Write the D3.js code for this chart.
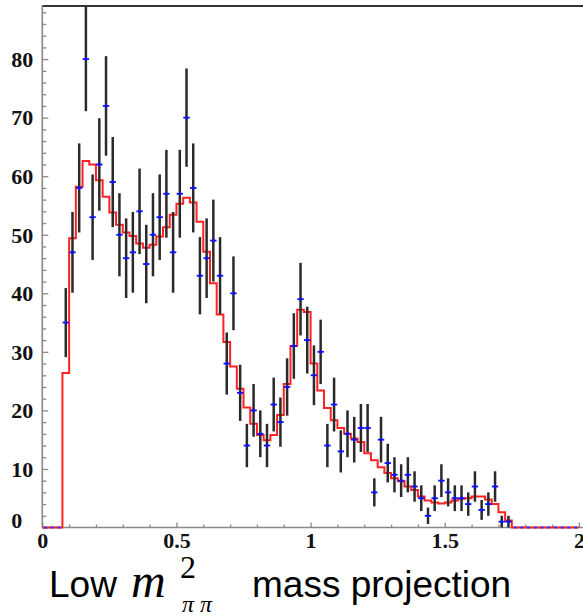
<!DOCTYPE html>
<html><head><meta charset="utf-8">
<script src="https://cdn.jsdelivr.net/npm/d3@7"></script>
<style>
html,body{margin:0;padding:0;background:#fff;}
svg{display:block;}
</style></head>
<body>
<svg id="chart" width="583" height="616"></svg>
<script>
// ---- data ----
const binWidth = 0.025;
const massCenters = [0.0875,0.1125,0.1375,0.1625,0.1875,0.2125,0.2375,0.2625,0.2875,0.3125,
  0.3375,0.3625,0.3875,0.4125,0.4375,0.4625,0.4875,0.5125,0.5375,0.5625,
  0.5875,0.6125,0.6375,0.6625,0.6875,0.7125,0.7375,0.7625,0.7875,0.8125,
  0.8375,0.8625,0.8875,0.9125,0.9375,0.9625,0.9875,1.0125,1.0375,1.0625,
  1.0875,1.1125,1.1375,1.1625,1.1875,1.2125,1.2375,1.2625,1.2875,1.3125,
  1.3375,1.3625,1.3875,1.4125,1.4375,1.4625,1.4875,1.5125,1.5375,1.5625,
  1.5875,1.6125,1.6375,1.6625,1.6875,1.7125,1.7375];
const counts = [35,47,58,80,53,62,72,59,50,46,
  47,54,45,50,53,57,47,57,70,58,
  43,46,49,43,28,40,23,14,20,16,
  14,21,18,24,31,39,32,26,30,14,
  21,13,16,15,17,17,6,15,11,9,
  8,9,7,5,2,5,8,6,5,5,
  4,7,3,4,7,1,1];
const errors = [5.9,6.9,7.6,8.9,7.3,7.9,8.5,7.7,7.1,6.8,
  6.9,7.3,6.7,7.1,7.3,7.5,6.9,7.5,8.4,7.6,
  6.6,6.8,7.0,6.6,5.3,6.3,4.8,3.7,4.5,4.0,
  3.7,4.6,4.2,4.9,5.6,6.2,5.7,5.1,5.5,3.7,
  4.6,3.6,4.0,3.9,4.1,4.1,2.4,3.9,3.3,3.0,
  2.8,3.0,2.6,2.2,1.4,2.2,2.8,2.4,2.2,2.2,
  2.0,2.6,1.7,2.0,2.6,1.0,1.0];
const fitValues = [26.4,49.4,58.2,62.6,62.0,59.3,56.5,53.8,51.7,50.4,
  49.8,48.5,47.8,48.3,49.7,51.3,53.4,55.3,56.3,55.5,
  52.2,47.1,41.7,36.4,31.7,27.5,23.7,20.5,17.7,15.8,
  14.9,15.8,19.2,24.5,31.0,37.2,36.8,28.0,23.4,20.4,
  18.3,17.0,16.0,15.2,14.6,12.7,11.5,10.3,9.3,8.4,
  7.9,7.0,6.4,5.3,4.6,4.25,4.1,4.25,4.6,4.9,
  5.0,5.3,5.3,4.8,4.0,2.6,1.2];
const zeroCenters = [0.0125,0.0375,0.0625,1.7625,1.7875,1.8125,1.8375,1.8625,1.8875,1.9125,1.9375,1.9625,1.9875];
const xTickValues = [0,0.5,1,1.5,2];
const xTickLabels = ["0","0.5","1","1.5","2"];
const yTickValues = [0,10,20,30,40,50,60,70,80];
const xDomain = [0,2];
const yDomain = [0,80];

// ---- layout ----
const svg = d3.select("#chart");
const left = 42.3, right = 578.9, bottom = 527.5, top80 = 59.1, frameTop = 6;
const x = d3.scaleLinear().domain(xDomain).range([left, right]);
const y = d3.scaleLinear().domain(yDomain).range([bottom, top80]);
const W = 583;

// top frame line
svg.append("line").attr("x1", left).attr("x2", W).attr("y1", frameTop).attr("y2", frameTop)
  .attr("stroke", "#333").attr("stroke-width", 2);

// Y axis
const yMinor = d3.range(0, 90, 2).filter(v => v % 10 !== 0);
const gyMinor = svg.append("g").attr("transform", `translate(${left},0)`)
  .call(d3.axisLeft(y).tickValues(yMinor).tickSize(-4).tickFormat(""));
const gy = svg.append("g").attr("transform", `translate(${left},0)`)
  .call(d3.axisLeft(y).tickValues(yTickValues).tickSize(-6).tickFormat(d3.format("d")));
[gy, gyMinor].forEach(g => {
  g.select(".domain").remove();
  g.selectAll(".tick line").attr("stroke", "#888").attr("stroke-width", 1.3);
});
gy.selectAll(".tick text")
  .attr("x", -31).attr("text-anchor", "start")
  .attr("font-family", "'Liberation Serif','Times New Roman',serif")
  .attr("font-weight", "bold").attr("font-size", 22).attr("fill", "#111")
  .attr("dy", d => d === 0 ? "-0.0em" : "0.33em");
svg.append("line").attr("x1", left).attr("x2", left).attr("y1", frameTop - 1).attr("y2", bottom)
  .attr("stroke", "#888").attr("stroke-width", 1.6);

// X axis
const xMinor = d3.range(0.1, 2.05, 0.1).filter(v => Math.abs(v * 2 - Math.round(v * 2)) > 1e-6);
const gxMinor = svg.append("g").attr("transform", `translate(0,${bottom})`)
  .call(d3.axisBottom(x).tickValues(xMinor).tickSize(-3).tickFormat(""));
const gx = svg.append("g").attr("transform", `translate(0,${bottom})`)
  .call(d3.axisBottom(x).tickValues(xTickValues).tickSize(-5).tickFormat((d, i) => xTickLabels[i]).tickPadding(8));
[gx, gxMinor].forEach(g => {
  g.select(".domain").remove();
  g.selectAll(".tick line").attr("stroke", "#888").attr("stroke-width", 1.3);
});
gx.selectAll(".tick text")
  .attr("y", 20).attr("dy", 0)
  .attr("font-family", "'Liberation Serif','Times New Roman',serif")
  .attr("font-weight", "bold").attr("font-size", 22).attr("fill", "#111");
svg.append("line").attr("x1", left).attr("x2", W).attr("y1", bottom).attr("y2", bottom)
  .attr("stroke", "#888").attr("stroke-width", 1.6);

// fit histogram (red step line)
const half = binWidth / 2;
const fitPts = [[xDomain[0], 0], [massCenters[0] - half, 0]];
massCenters.forEach((c, i) => {
  fitPts.push([c - half, fitValues[i]]);
  fitPts.push([c + half, fitValues[i]]);
});
fitPts.push([massCenters[massCenters.length - 1] + half, 0]);
fitPts.push([xDomain[1], 0]);
svg.append("path")
  .attr("d", d3.line().x(d => x(d[0])).y(d => y(d[1]))(fitPts))
  .attr("fill", "none").attr("stroke", "#ff2222").attr("stroke-width", 2)
  .attr("stroke-linejoin", "miter");

// error bars
const pts = massCenters.map((c, i) => ({c, n: counts[i], e: errors[i]}));
svg.append("g").selectAll("line").data(pts).join("line")
  .attr("x1", d => x(d.c)).attr("x2", d => x(d.c))
  .attr("y1", d => Math.max(frameTop, y(d.n + d.e))).attr("y2", d => y(d.n - d.e))
  .attr("stroke", "#2a2a2a").attr("stroke-width", 2.5);

// data markers
const mk = svg.append("g");
mk.selectAll("line.h").data(pts).join("line").attr("class", "h")
  .attr("x1", d => x(d.c) - 3.2).attr("x2", d => x(d.c) + 3.2)
  .attr("y1", d => y(d.n)).attr("y2", d => y(d.n))
  .attr("stroke", "#1010e8").attr("stroke-width", 1.8);
mk.selectAll("line.v").data(pts).join("line").attr("class", "v")
  .attr("x1", d => x(d.c)).attr("x2", d => x(d.c))
  .attr("y1", d => y(d.n) - 2).attr("y2", d => y(d.n) + 2)
  .attr("stroke", "#1010e8").attr("stroke-width", 1.6);
// zero-count bins
mk.selectAll("line.z").data(zeroCenters).join("line").attr("class", "z")
  .attr("x1", d => x(d) - 1.6).attr("x2", d => x(d) + 1.6)
  .attr("y1", y(0)).attr("y2", y(0))
  .attr("stroke", "#3030ff").attr("stroke-width", 1.8);

// caption
const cap = svg.append("g");
cap.append("text").attr("x", 49).attr("y", 597)
  .attr("font-family", "'Liberation Sans',Arial,sans-serif").attr("font-size", 37).attr("fill", "#000")
  .text("Low");
cap.append("text").attr("x", 131).attr("y", 597)
  .attr("font-family", "'Liberation Serif','Times New Roman',serif").attr("font-style", "italic")
  .attr("font-size", 48).attr("fill", "#000").text("m");
cap.append("text").attr("x", 180).attr("y", 578)
  .attr("font-family", "'Liberation Serif','Times New Roman',serif")
  .attr("font-size", 32).attr("fill", "#000").text("2");
cap.append("text").attr("x", 182).attr("y", 612)
  .attr("font-family", "'Liberation Serif','Times New Roman',serif").attr("font-style", "italic")
  .attr("font-size", 24).attr("fill", "#000").text("π π");
cap.append("text").attr("x", 252).attr("y", 597)
  .attr("font-family", "'Liberation Sans',Arial,sans-serif").attr("font-size", 37).attr("fill", "#000")
  .text("mass projection");
</script>
</body></html>
